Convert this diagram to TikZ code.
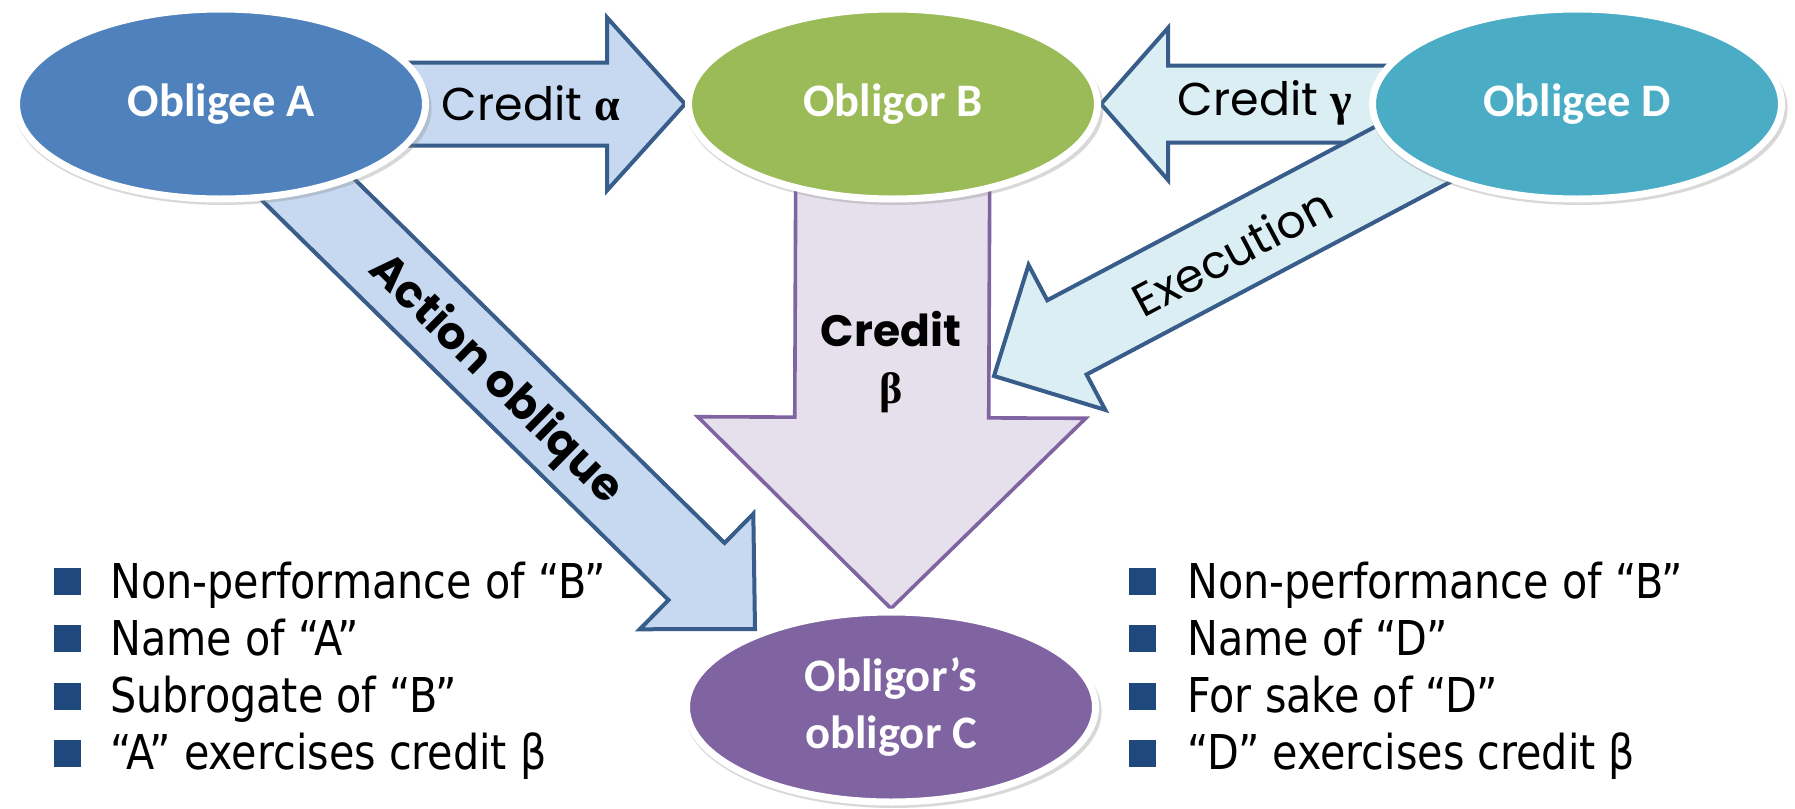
\documentclass[tikz,border=0pt]{standalone}
\usepackage{fontspec}
\usetikzlibrary{calc,shapes.geometric,shadows,positioning}
\newfontfamily\ovalfont{Carlito}
\newfontfamily\arrowfont{Poppins}
\newfontfamily\greekfont{Liberation Serif}
\newfontfamily\listfont[FakeStretch=0.86]{DejaVu Sans}

\definecolor{cblue}{HTML}{4F81BD}
\definecolor{cgreen}{HTML}{9BBB59}
\definecolor{cteal}{HTML}{4BACC6}
\definecolor{cpurple}{HTML}{8064A2}
\definecolor{arrowline}{HTML}{385D8A}
\definecolor{arrowfill}{HTML}{C6D9F1}
\definecolor{aquafill}{HTML}{DBEEF4}
\definecolor{lavender}{HTML}{E5E0EC}
\definecolor{bulletblue}{HTML}{1F497D}

\pgfdeclarelayer{background}
\pgfsetlayers{background,main}

\tikzstyle{oval} = [ellipse, draw=white, line width=3.5pt, minimum width=204.5pt, minimum height=95pt, text=white, font=\ovalfont\bfseries\fontsize{23.3}{28.5}\selectfont, drop shadow={shadow xshift=1pt, shadow yshift=-2pt, shadow scale=1.02, opacity=0.3}]
\tikzstyle{blue arrow} = [draw=arrowline, fill=arrowfill, line width=2pt]
\tikzstyle{aqua arrow} = [draw=arrowline, fill=aquafill, line width=2pt]
\tikzstyle{purple arrow} = [draw=cpurple, fill=lavender, line width=1.8pt]
\tikzstyle{arrow label} = [inner sep=0pt, font=\arrowfont\fontsize{23}{28}\selectfont]
\tikzstyle{bullet} = [fill=bulletblue, minimum size=13.5pt, inner sep=0pt]
\tikzstyle{item} = [anchor=base west, inner sep=0pt, font=\listfont\fontsize{24}{28}\selectfont]

% tail, tip, shaft half width, head half width, head length
\newcommand{\blockarrow}[6][]{%
        \coordinate (neck) at ($(#3)!#6!(#2)$);
        \draw[#1] ($(#2)!#4!90:(#3)$) -- ($(neck)!#4!90:(#3)$) -- ($(neck)!#5!90:(#3)$) -- (#3)
                -- ($(neck)!#5!-90:(#3)$) -- ($(neck)!#4!-90:(#3)$) -- ($(#2)!#4!-90:(#3)$) -- cycle;
}

\begin{document}
\begin{tikzpicture}[x=0.5pt, y=-0.5pt]
        \useasboundingbox (0,0) rectangle (1795,809);
        \node[oval, fill=cblue] (obligee-a) at (221,104) {Obligee A};
        \node[oval, fill=cgreen] (obligor-b) at (893,104) {Obligor B};
        \node[oval, fill=cteal] (obligee-d) at (1577,104) {Obligee D};
        \node[oval, fill=cpurple, align=center] (obligor-c) at (891,707) {Obligor’s\\obligor C};
        \coordinate (action-tip) at (755,629);
        \coordinate (exec-tail) at (1470,124);
        \coordinate (exec-tip) at (994,376);
        \begin{pgfonlayer}{background}
                \fill[white] (0,0) rectangle (1795,809);
                \blockarrow[blue arrow]{obligee-a.center}{obligor-b.west}{20.75pt}{43.25pt}{39pt}
                \blockarrow[blue arrow]{obligee-a.center}{action-tip}{20pt}{40.5pt}{41pt}
                \blockarrow[purple arrow]{obligor-b.center}{obligor-c.north}{48.5pt}{97pt}{95.5pt}
                \blockarrow[aqua arrow]{obligee-d.center}{obligor-b.east}{19.25pt}{38pt}{33.5pt}
                \blockarrow[aqua arrow]{exec-tail}{exec-tip}{21pt}{41pt}{41.25pt}
        \end{pgfonlayer}
        \node[arrow label] (label-alpha) at (531,103) {Credit {\greekfont\bfseries α}};
        \node[arrow label] (label-gamma) at (1265,103) {Credit {\greekfont\bfseries γ}};
        \node[arrow label, font=\arrowfont\bfseries\fontsize{22}{28.5}\selectfont, align=center] (label-beta) at (891,362) {Credit\\{\greekfont β}};
        \node[arrow label, font=\arrowfont\bfseries\fontsize{22.5}{28}\selectfont, rotate=-44.5] (label-action) at (495,380) {Action oblique};
        \node[arrow label, rotate=28] (label-exec) at (1232,252) {Execution};
        \foreach \txt [count=\i] in {Non-performance of “B”, Name of “A”, Subrogate of “B”, “A” exercises credit β} {
                \node[bullet] (sq-a-\i) at (67.5, {581.5+57.3*(\i-1)}) {};
                \node[item] (item-a-\i) at (110, {598+57.3*(\i-1)}) {\txt};
        }
        \foreach \txt [count=\i] in {Non-performance of “B”, Name of “D”, For sake of “D”, “D” exercises credit β} {
                \node[bullet] (sq-d-\i) at (1142, {581.5+57.3*(\i-1)}) {};
                \node[item] (item-d-\i) at (1187, {598+57.3*(\i-1)}) {\txt};
        }
\end{tikzpicture}
\end{document}
